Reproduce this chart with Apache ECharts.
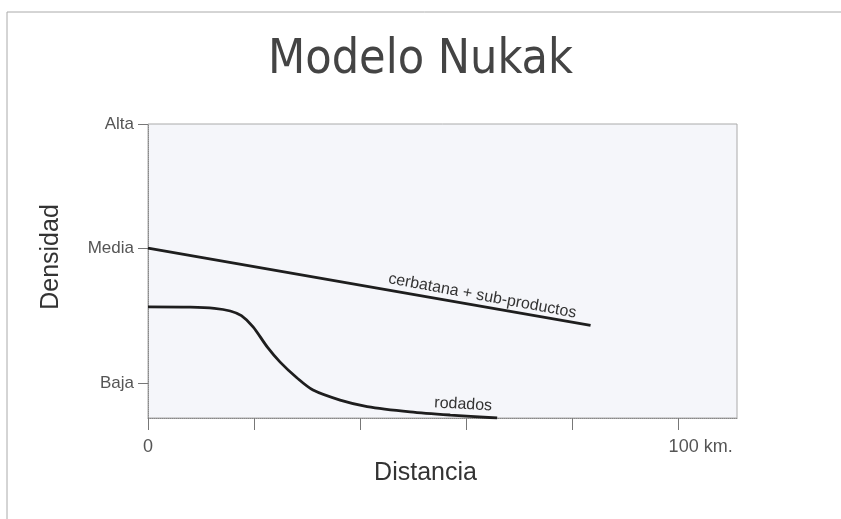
<!DOCTYPE html>
<html>
<head>
<meta charset="utf-8">
<title>Modelo Nukak</title>
<script src="https://cdn.jsdelivr.net/npm/echarts@6/dist/echarts.min.js"></script>
<style>
  html, body { margin: 0; padding: 0; background: #fff; }
  #chart { width: 841px; height: 519px; }
</style>
</head>
<body>
<div id="chart"></div>
<script>
// distancia (km) / densidad (escala relativa 0-100)
const cerbatanaX = [0, 83.4]
const cerbatanaY = [57.8, 31.5]

const rodadosX = [0, 8.0, 12.5, 15.5, 17.6, 19.8, 22.5, 24.9, 28.1, 31.1, 36.2, 41.3, 49.4, 57.0, 65.8]
const rodadosY = [37.8, 37.7, 37.3, 36.4, 34.8, 31.0, 24.1, 19.0, 13.6, 9.5, 6.1, 3.9, 2.1, 1.0, 0.0]

const xTicks = [0, 20, 40, 60, 80, 100]
const xLabelValues = [0, 100]
const yTickValues = [11.9, 57.8, 100]
const yTickLabels = ['Baja', 'Media', 'Alta']

const zip = (xs, ys) => xs.map((x, i) => [x, ys[i]])

const chart = echarts.init(document.getElementById('chart'))

const lineStyle = { color: '#1e1e1e', width: 2.8 }
const tagStyle = { fontFamily: 'Liberation Sans, Arial, sans-serif', fontSize: 16, color: '#333' }

chart.setOption({
  animation: false,
  backgroundColor: '#fff',
  title: {
    text: 'Modelo Nukak',
    left: 'center',
    top: 32,
    textStyle: {
      fontFamily: 'Liberation Sans Narrow, DejaVu Sans Condensed, Arial, sans-serif',
      fontSize: 48,
      fontWeight: 'normal',
      color: '#444'
    }
  },
  graphic: [{
    type: 'rect',
    shape: { x: 7, y: 12, width: 850, height: 520 },
    style: { fill: 'none', stroke: '#aaa', lineWidth: 1 },
    silent: true
  }],
  grid: {
    left: 148, right: 104, top: 124, bottom: 101,
    show: true,
    backgroundColor: '#f5f6fa',
    borderColor: '#aaa',
    borderWidth: 1
  },
  xAxis: {
    type: 'value',
    min: 0,
    max: 111,
    name: 'Distancia',
    nameLocation: 'middle',
    nameGap: 34,
    nameTextStyle: {
      fontFamily: 'Liberation Sans, Arial, sans-serif',
      fontSize: 25,
      color: '#333',
      padding: [0, 34, 0, 0]
    },
    splitLine: { show: false },
    axisLine: { lineStyle: { color: '#888', type: 'dotted' } },
    axisTick: { customValues: xTicks, length: 12, lineStyle: { color: '#777' } },
    axisLabel: {
      customValues: xLabelValues,
      margin: 20,
      fontFamily: 'Liberation Sans, Arial, sans-serif',
      fontSize: 18,
      color: '#555',
      formatter: v => v === 100 ? '{r|100 km.}' : String(v),
      rich: { r: { fontFamily: 'Liberation Sans, Arial, sans-serif', fontSize: 18, color: '#555', padding: [0, 0, 0, 44] } }
    }
  },
  yAxis: {
    type: 'value',
    min: 0,
    max: 100,
    name: 'Densidad',
    nameLocation: 'middle',
    nameGap: 84,
    nameTextStyle: {
      fontFamily: 'Liberation Sans, Arial, sans-serif',
      fontSize: 25,
      color: '#333',
      padding: [0, 0, 0, 28]
    },
    splitLine: { show: false },
    axisLine: { show: true, lineStyle: { color: '#888', type: 'dotted' } },
    axisTick: { show: true, customValues: yTickValues, length: 10, lineStyle: { color: '#777' } },
    axisLabel: {
      customValues: yTickValues,
      margin: 14,
      fontFamily: 'Liberation Sans, Arial, sans-serif',
      fontSize: 17,
      color: '#555',
      formatter: v => yTickLabels[yTickValues.indexOf(v)]
    }
  },
  series: [
    {
      name: 'cerbatana + sub-productos',
      type: 'line',
      data: zip(cerbatanaX, cerbatanaY),
      symbol: 'none',
      lineStyle: lineStyle,
      markPoint: {
        symbol: 'circle',
        symbolSize: 0,
        data: [{ coord: [63, 41.5] }],
        label: { show: true, position: 'inside', formatter: 'cerbatana + sub-productos', rotate: -10.5, ...tagStyle }
      }
    },
    {
      name: 'rodados',
      type: 'line',
      data: zip(rodadosX, rodadosY),
      smooth: 0.3,
      symbol: 'none',
      lineStyle: lineStyle,
      markPoint: {
        symbol: 'circle',
        symbolSize: 0,
        data: [{ coord: [59.4, 4.6] }],
        label: { show: true, position: 'inside', formatter: 'rodados', rotate: -3, ...tagStyle }
      }
    }
  ]
})
</script>
</body>
</html>
